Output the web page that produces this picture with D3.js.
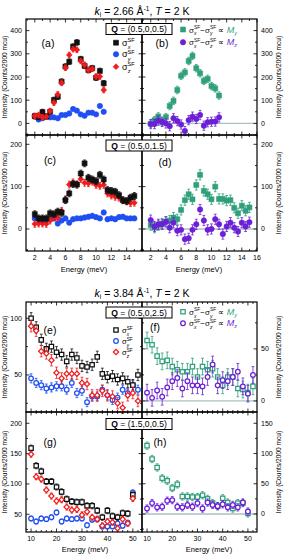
<!doctype html>
<html lang="en">
<head>
<meta charset="utf-8">
<title>Polarized neutron SF intensities</title>
<script src="https://cdn.jsdelivr.net/npm/d3@7"></script>
<style>
  body { margin: 0; background: #fff; }
  svg { font-family: Arial, "Liberation Sans", sans-serif; }
</style>
</head>
<body>
<svg width="284" height="556"></svg>
<script>

// ---- data ----
// ki = 2.66 1/A, energies in meV
var energyA = [2,2.5,3,3.5,4,4.5,5,5.5,6,6.5,7,7.5,8,8.5,9,9.5,10,10.5,11];
var a_sx = [31,28,49,30,50,101,115,180,245,266,331,349,277,248,230,238,197,226,173];
var a_sy = [32,17,22,29,26,26,22,36,36,43,62,55,39,33,46,46,39,75,50];
var a_sz = [32,36,26,29,53,89,125,175,240,295,320,317,269,252,230,235,202,202,144];
var b_My = [-1,14,30,5,27,75,97,144,205,220,269,291,238,216,183,192,161,151,120];
var b_Mz = [-3,-3,12,7,0,-12,22,10,-5,-33,14,29,19,36,-10,5,7,8,26];

var energyC = [2,2.5,3,3.5,4,4.5,5,5.5,6,6.5,7,7.5,8,8.5,9,9.5,10,10.5,11,11.5,12,12.5,13,13.5,14,14.5,15];
var c_sx = [35,25,25,25,37,35,41,38,68,84,106,105,131,155,121,117,113,128,117,92,90,88,80,68,66,74,78];
var c_sy = [25,23,21,20,23,25,13,20,25,15,23,25,25,27,29,31,28,25,39,23,25,23,28,29,25,25,25];
var c_sz = [12,13,13,12,20,27,27,43,70,105,110,105,118,109,108,112,104,102,104,84,79,76,74,68,65,61,62];
var d_My = [9,3,9,13,17,20,27,23,45,68,82,70,104,128,90,82,70,100,71,71,67,68,50,37,55,43,51];
var d_Mz = [21,6,11,11,17,3,15,-4,-2,-24,-22,-2,11,46,20,-2,0,23,11,-12,6,15,3,-6,15,6,16];

// ki = 3.84 1/A
var energyE = [10,12,14,16,18,20,22,24,26,28,30,32,34,36,38,40,42,44,46,48,50,52];
var e_sx = [100,92,81,73,75,70,68,62,68,65,58,57,59,66,51,48,49,46,47,44,41,50];
var e_sy = [47,43,41,38,39,40,40,37,43,34,36,26,31,31,37,32,28,30,37,34,41,37];
var e_sz = [93,89,71,69,63,52,47,51,51,51,43,42,32,32,36,32,31,25,21,32,34,27];
var f_My = [58,54,43,38,39,33,30,28,28,33,23,33,30,31,23,15,23,23,12,11,8,14];
var f_Mz = [8,3,10,4,13,19,22,12,19,15,15,14,23,35,15,20,19,23,28,14,7,25];

var energyG = [10,12,14,16,18,20,22,24,26,28,30,32,34,36,38,40,42,44,46,48,50];
var g_sx = [159,130,121,104,104,95,87,75,71,70,70,64,64,56,45,56,47,45,52,51,82];
var g_sy = [43,38,43,42,45,53,38,43,42,43,43,32,41,42,30,30,30,35,31,36,86];
var g_sz = [149,112,108,90,80,72,74,62,57,58,49,54,45,42,31,38,37,27,42,35,76];
var h_My = [113,91,77,59,55,43,49,29,29,28,28,31,25,18,13,26,19,9,18,18,1];
var h_Mz = [9,18,11,12,22,23,12,11,15,12,18,9,19,15,13,16,11,15,11,19,4];

// typical error bar half-lengths per series
var errA = {sx: 12, sy: 6, sz: 12, My: 16, Mz: 20};
var errC = {sx: 8, sy: 5, sz: 8, My: 12, Mz: 12};
var errE = {sx: 5, sy: 4, sz: 5, My: 8, Mz: 8};
var errG = {sx: 5, sy: 4, sz: 5, My: 6, Mz: 6};

var qLabels = ["(0.5,0,0.5)", "(0.5,0,1.5)", "(0.5,0,2.5)", "(1.5,0,0.5)"];
var titles = [{k: "2.66"}, {k: "3.84"}];

var col = {x: "#111111", y: "#1f4ff2", z: "#f01c1c", My: "#2f9f7c", Mz: "#6b1fd6"};

var svg = d3.select("svg");

// sigma_a^SF written as tspans inside a text element
function sig(t, sub, fs, pre) {
  var s = fs * 0.62;
  t.append("tspan").attr("dx", pre ? pre.dx : 0).attr("dy", pre ? pre.dy : 0).text("σ");
  t.append("tspan").attr("font-size", s).attr("dy", -fs * 0.42).text("SF");
  t.append("tspan").attr("font-size", s).attr("font-style", "italic")
    .attr("dx", -s * 1.25).attr("dy", fs * 0.78).text(sub);
  return {dx: s * 0.75, dy: -fs * 0.36};
}

function marker(g, x, y, shape, color, open) {
  var sym = shape == "circle" ? d3.symbolCircle : d3.symbolSquare;
  var size = shape == "circle" ? (open ? 17 : 23) : (shape == "diamond" ? (open ? 14 : 17) : (open ? 19 : 25));
  g.append("path")
    .attr("d", d3.symbol().type(sym).size(size)())
    .attr("transform", "translate(" + x + "," + y + ")" + (shape == "diamond" ? " rotate(45)" : ""))
    .attr("fill", open ? "#fff" : color)
    .attr("stroke", color)
    .attr("stroke-width", open ? 1.25 : 0.6);
}

function drawPanel(p) {
  var g = svg.append("g");
  var x = d3.scaleLinear().domain(p.xd).range([p.x0, p.x1]);
  var y = d3.scaleLinear().domain(p.yd).range([p.y1, p.y0]);

  if (p.zero) {
    g.append("line").attr("x1", p.x0).attr("x2", p.x1)
      .attr("y1", y(0)).attr("y2", y(0))
      .attr("stroke", "#adbfbf").attr("stroke-width", 1.3);
  }

  // x ticks, inward top and bottom
  p.xt.forEach(function (v) {
    var len = p.xMajor.indexOf(v) >= 0 ? 3.5 : 2;
    g.append("line").attr("x1", x(v)).attr("x2", x(v)).attr("y1", p.y1).attr("y2", p.y1 - len)
      .attr("stroke", "#000").attr("stroke-width", 0.8);
    g.append("line").attr("x1", x(v)).attr("x2", x(v)).attr("y1", p.y0).attr("y2", p.y0 + len)
      .attr("stroke", "#000").attr("stroke-width", 0.8);
  });
  if (p.xLab) {
    p.xLab.forEach(function (v) {
      g.append("text").attr("x", x(v)).attr("y", p.y1 + 8.5)
        .attr("text-anchor", "middle").attr("font-size", 7).text(v);
    });
  }

  // y ticks, inward both sides
  p.yt.forEach(function (v) {
    var len = p.yMajor.indexOf(v) >= 0 ? 3.5 : 2;
    g.append("line").attr("x1", p.x0).attr("x2", p.x0 + len).attr("y1", y(v)).attr("y2", y(v))
      .attr("stroke", "#000").attr("stroke-width", 0.8);
    g.append("line").attr("x1", p.x1).attr("x2", p.x1 - len).attr("y1", y(v)).attr("y2", y(v))
      .attr("stroke", "#000").attr("stroke-width", 0.8);
  });
  p.yMajor.forEach(function (v) {
    g.append("text")
      .attr("x", p.side == "left" ? p.x0 - 4 : p.x1 + 4)
      .attr("y", y(v) + 2.5)
      .attr("text-anchor", p.side == "left" ? "end" : "start")
      .attr("font-size", 7).text(v);
  });

  // data
  p.series.forEach(function (s) {
    var sg = g.append("g");
    s.ys.forEach(function (v, i) {
      var cx = x(s.xs[i]), cy = y(v);
      var e1 = y(v + s.err), e2 = y(v - s.err);
      sg.append("line").attr("x1", cx).attr("x2", cx).attr("y1", e1).attr("y2", e2)
        .attr("stroke", s.color).attr("stroke-width", 0.8);
      [e1, e2].forEach(function (ey) {
        sg.append("line").attr("x1", cx - 1.4).attr("x2", cx + 1.4).attr("y1", ey).attr("y2", ey)
          .attr("stroke", s.color).attr("stroke-width", 0.8);
      });
    });
    s.ys.forEach(function (v, i) {
      marker(sg, x(s.xs[i]), y(v), s.shape, s.color, s.open);
    });
  });

  g.append("text").attr("x", p.lx).attr("y", p.ly + 3.8)
    .attr("text-anchor", "middle").attr("font-size", 10.5).text("(" + p.id + ")");

  // frame
  g.append("rect").attr("x", p.x0).attr("y", p.y0)
    .attr("width", p.x1 - p.x0).attr("height", p.y1 - p.y0)
    .attr("fill", "none").attr("stroke", "#000").attr("stroke-width", 1.2);
}

var topX = [1,2,3,4,5,6,7,8,9,10,11,12,13,14,15,16];
var topMajor = [2,4,6,8,10,12,14,16];
var botX = [10,12,14,16,18,20,22,24,26,28,30,32,34,36,38,40,42,44,46,48,50,52];
var botMajor = [10,20,30,40,50];

var panels = [
  {id: "a", x0: 26, x1: 142, y0: 19, y1: 135, xd: [0.85, 16], yd: [-50, 450], side: "left",
   xt: topX, xMajor: topMajor, yt: [-50,0,50,100,150,200,250,300,350,400], yMajor: [0,100,200,300,400],
   lx: 48, ly: 43,
   series: [
     {xs: energyA, ys: a_sy, err: errA.sy, color: col.y, shape: "circle"},
     {xs: energyA, ys: a_sx, err: errA.sx, color: col.x, shape: "square"},
     {xs: energyA, ys: a_sz, err: errA.sz, color: col.z, shape: "diamond"}]},
  {id: "b", x0: 142, x1: 257, y0: 19, y1: 135, xd: [0.85, 16], yd: [-50, 450], side: "right", zero: true,
   xt: topX, xMajor: topMajor, yt: [-50,0,50,100,150,200,250,300,350,400], yMajor: [0,100,200,300,400],
   lx: 162, ly: 43,
   series: [
     {xs: energyA, ys: b_My, err: errA.My, color: col.My, shape: "square"},
     {xs: energyA, ys: b_Mz, err: errA.Mz, color: col.Mz, shape: "circle"}]},
  {id: "c", x0: 26, x1: 142, y0: 135, y1: 251, xd: [0.85, 16], yd: [-52, 222], side: "left",
   xt: topX, xMajor: topMajor, xLab: [2,4,6,8,10,12,14], yt: [-50,0,50,100,150,200], yMajor: [0,100,200],
   lx: 50, ly: 160,
   series: [
     {xs: energyC, ys: c_sy, err: errC.sy, color: col.y, shape: "circle"},
     {xs: energyC, ys: c_sz, err: errC.sz, color: col.z, shape: "diamond"},
     {xs: energyC, ys: c_sx, err: errC.sx, color: col.x, shape: "square"}]},
  {id: "d", x0: 142, x1: 257, y0: 135, y1: 251, xd: [0.85, 16], yd: [-52, 222], side: "right", zero: true,
   xt: topX, xMajor: topMajor, xLab: [2,4,6,8,10,12,14,16], yt: [-50,0,50,100,150,200], yMajor: [0,100,200],
   lx: 165, ly: 162,
   series: [
     {xs: energyC, ys: d_My, err: errC.My, color: col.My, shape: "square"},
     {xs: energyC, ys: d_Mz, err: errC.Mz, color: col.Mz, shape: "circle"}]},
  {id: "e", x0: 26, x1: 142, y0: 302, y1: 412, xd: [8, 53.6], yd: [17.3, 114.4], side: "left",
   xt: botX, xMajor: botMajor, yt: [25,50,75,100], yMajor: [50,100],
   lx: 50, ly: 330,
   series: [
     {xs: energyE, ys: e_sy, err: errE.sy, color: col.y, shape: "circle", open: true},
     {xs: energyE, ys: e_sx, err: errE.sx, color: col.x, shape: "square", open: true},
     {xs: energyE, ys: e_sz, err: errE.sz, color: col.z, shape: "diamond", open: true}]},
  {id: "f", x0: 142, x1: 257, y0: 302, y1: 412, xd: [8, 53.6], yd: [-10.6, 95], side: "right", zero: true,
   xt: botX, xMajor: botMajor, yt: [0,25,50,75], yMajor: [0,50],
   lx: 155, ly: 327,
   series: [
     {xs: energyE, ys: f_My, err: errE.My, color: col.My, shape: "square", open: true},
     {xs: energyE, ys: f_Mz, err: errE.Mz, color: col.Mz, shape: "circle", open: true}]},
  {id: "g", x0: 26, x1: 142, y0: 412, y1: 532, xd: [8, 53.6], yd: [20.8, 218.6], side: "left",
   xt: botX, xMajor: botMajor, xLab: [10,20,30,40,50], yt: [25,50,75,100,125,150,175,200], yMajor: [50,100,150,200],
   lx: 50, ly: 442,
   series: [
     {xs: energyG, ys: g_sy, err: errG.sy, color: col.y, shape: "circle", open: true},
     {xs: energyG, ys: g_sx, err: errG.sx, color: col.x, shape: "square", open: true},
     {xs: energyG, ys: g_sz, err: errG.sz, color: col.z, shape: "diamond", open: true}]},
  {id: "h", x0: 142, x1: 257, y0: 412, y1: 532, xd: [8, 53.6], yd: [-29.8, 168.7], side: "right", zero: true,
   xt: botX, xMajor: botMajor, xLab: [10,20,30,40,50], yt: [-25,0,25,50,75,100,125,150], yMajor: [0,50,100,150],
   lx: 160, ly: 442,
   series: [
     {xs: energyG, ys: h_My, err: errG.My, color: col.My, shape: "square", open: true},
     {xs: energyG, ys: h_Mz, err: errG.Mz, color: col.Mz, shape: "circle", open: true}]}
];

panels.forEach(drawPanel);

// titles
[{y: 14.5, k: titles[0].k}, {y: 296.5, k: titles[1].k}].forEach(function (d) {
  var t = svg.append("text").attr("x", 142).attr("y", d.y).attr("text-anchor", "middle").attr("font-size", 10.5);
  t.append("tspan").attr("font-style", "italic").text("k");
  t.append("tspan").attr("font-size", 6.5).attr("dy", 2.5).text("i");
  t.append("tspan").attr("dy", -2.5).text(" = " + d.k + " Å");
  t.append("tspan").attr("font-size", 6.5).attr("dy", -4).text("-1");
  t.append("tspan").attr("dy", 4).text(", ");
  t.append("tspan").attr("font-style", "italic").text("T");
  t.append("tspan").text(" = 2 K");
});

// Q boxes
[{y: 23.5, q: qLabels[0]}, {y: 140, q: qLabels[1]}, {y: 307, q: qLabels[2]}, {y: 418.5, q: qLabels[3]}].forEach(function (d) {
  svg.append("rect").attr("x", 106).attr("y", d.y).attr("width", 66).attr("height", 11)
    .attr("fill", "#fff").attr("stroke", "#000").attr("stroke-width", 1);
  var t = svg.append("text").attr("x", 139).attr("y", d.y + 8.7).attr("text-anchor", "middle").attr("font-size", 8.6);
  t.append("tspan").attr("font-weight", "bold").text("Q");
  t.append("tspan").text(" = " + d.q);
});

// axis titles
var rowC = [[19, 135], [135, 251], [302, 412], [412, 532]];
rowC.forEach(function (r) {
  var cy = (r[0] + r[1]) / 2;
  svg.append("text").attr("transform", "translate(7," + cy + ") rotate(-90)")
    .attr("text-anchor", "middle").attr("font-size", 6.6).text("Intensity (Counts/2000 mcu)");
  svg.append("text").attr("transform", "translate(281," + cy + ") rotate(-90)")
    .attr("text-anchor", "middle").attr("font-size", 6.6).text("Intensity (Counts/2000 mcu)");
});
[[84, 271.5], [199, 271.5], [85, 551.5], [209, 551.5]].forEach(function (p) {
  svg.append("text").attr("x", p[0]).attr("y", p[1]).attr("text-anchor", "middle")
    .attr("font-size", 7.5).text("Energy (meV)");
});

// legends, left panels
function legendLeft(ys, open, fs) {
  var items = [["x", col.x, "square"], ["y", col.y, "circle"], ["z", col.z, "diamond"]];
  items.forEach(function (it, i) {
    marker(svg, 116, ys[i], it[2], it[1], open);
    var t = svg.append("text").attr("x", 122).attr("y", ys[i] + 3).attr("font-size", fs);
    sig(t, it[0], fs);
  });
}
legendLeft([42.7, 54.3, 66.7], false, 9);
legendLeft([330, 341, 352], true, 7.6);

// legends, right panels
function legendRight(ys, open) {
  var fs = 8;
  var items = [["y", col.My, "square"], ["z", col.Mz, "circle"]];
  items.forEach(function (it, i) {
    marker(svg, 183, ys[i], it[2], it[1], open);
    var t = svg.append("text").attr("x", 189).attr("y", ys[i] + 3).attr("font-size", fs).attr("fill", "#111");
    var r = sig(t, "x", fs);
    t.append("tspan").attr("dx", r.dx).attr("dy", r.dy).text("−");
    r = sig(t, it[0], fs);
    t.append("tspan").attr("dx", r.dx).attr("dy", r.dy).text(" ∝ ");
    t.append("tspan").attr("font-style", "italic").attr("fill", it[1]).attr("font-size", 9).text("M");
    t.append("tspan").attr("font-style", "italic").attr("fill", it[1]).attr("font-size", 5.5).attr("dy", 2).text(it[0]);
  });
}
legendRight([29.5, 42.3], false);
legendRight([311.7, 323.3], true);

</script>
</body>
</html>
